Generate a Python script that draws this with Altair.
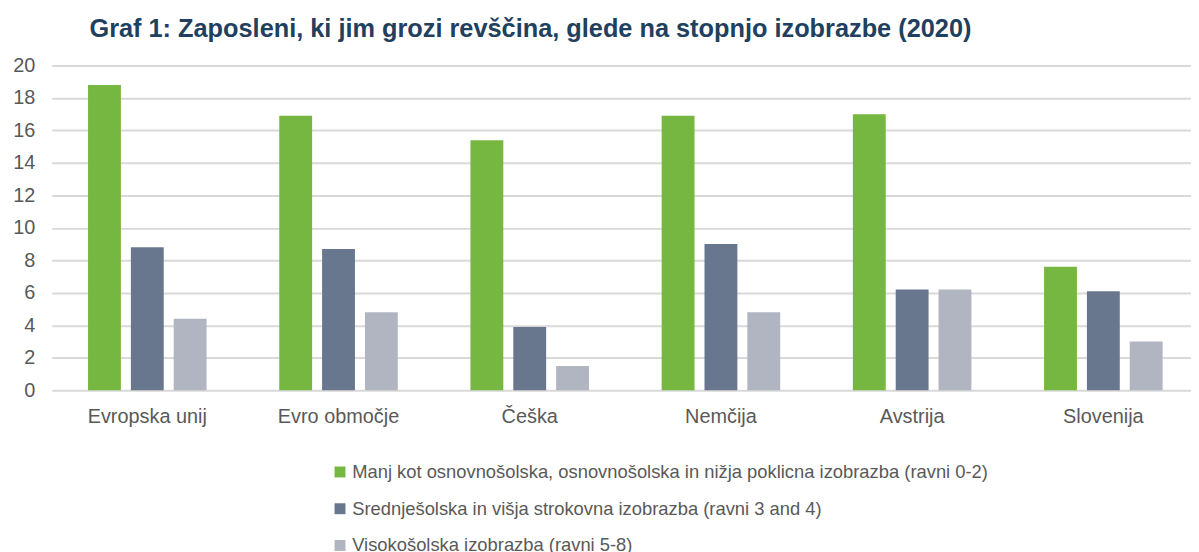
import altair as alt
import pandas as pd

countries = ["Evropska unij", "Evro območje", "Češka", "Nemčija", "Avstrija", "Slovenija"]
series = [
    "Manj kot osnovnošolska, osnovnošolska in nižja poklicna izobrazba (ravni 0-2)",
    "Srednješolska in višja strokovna izobrazba (ravni 3 and 4)",
    "Visokošolska izobrazba (ravni 5-8)",
]
low_edu = [18.8, 16.9, 15.4, 16.9, 17.0, 7.6]
mid_edu = [8.8, 8.7, 3.9, 9.0, 6.2, 6.1]
high_edu = [4.4, 4.8, 1.5, 4.8, 6.2, 3.0]
colors = ["#76B741", "#68778D", "#B1B5C1"]
y_ticks = [0, 2, 4, 6, 8, 10, 12, 14, 16, 18, 20]

rows = []
for s, vals in zip(series, [low_edu, mid_edu, high_edu]):
    for c, v in zip(countries, vals):
        rows.append({"country": c, "series": s, "value": v})
df = pd.DataFrame(rows)

FONT = "Liberation Sans"

chart = alt.Chart(df).mark_bar().encode(
    x=alt.X("country:N", sort=countries, title=None,
            scale=alt.Scale(paddingInner=0.38, paddingOuter=0.19, range=[0, 1155]),
            axis=alt.Axis(labelAngle=0, ticks=False, domain=False, labelFontSize=20,
                          labelColor="#595959", labelFont=FONT, labelPadding=16)),
    xOffset=alt.XOffset("series:N", sort=series,
                        scale=alt.Scale(paddingInner=0.233, paddingOuter=0)),
    y=alt.Y("value:Q", title=None,
            scale=alt.Scale(domain=[0, 20], nice=False),
            axis=alt.Axis(values=y_ticks, ticks=False, domain=False, labelFontSize=20,
                          labelColor="#595959", labelFont=FONT, labelPadding=17,
                          gridColor="#D9D9D9", gridWidth=2)),
    color=alt.Color("series:N", sort=series,
                    scale=alt.Scale(domain=series, range=colors),
                    legend=alt.Legend(title=None, orient="none", legendX=281, legendY=400,
                                      direction="vertical", symbolType="square",
                                      symbolSize=121, symbolStrokeWidth=0,
                                      labelFontSize=18.5, labelColor="#595959",
                                      labelFont=FONT, rowPadding=18, labelOffset=3,
                                      labelLimit=1000)),
).properties(
    width=1147,
    height=327,
    autosize="none",
    padding={"left": 44, "top": 56, "right": 0, "bottom": 168},
    title=alt.TitleParams(
        "Graf 1: Zaposleni, ki jim grozi revščina, glede na stopnjo izobrazbe (2020)",
        anchor="start", frame="group", dx=38, offset=13, fontSize=25.5,
        font=FONT, fontWeight="bold", color="#213F5E"),
).configure_view(stroke=None)

chart.save("out.html", embed_options={"renderer": "svg", "actions": False})
